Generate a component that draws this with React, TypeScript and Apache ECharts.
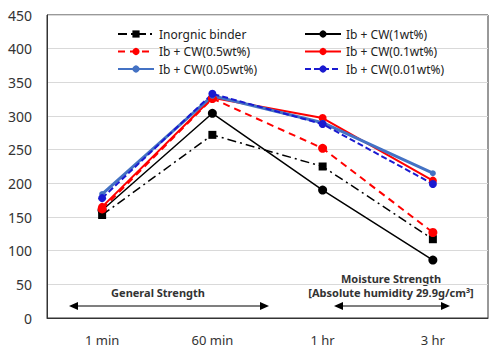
import React, { useEffect, useRef } from "react";
import * as echarts from "echarts";

const categories = ["1 min", "60 min", "1 hr", "3 hr"];
const yTicks = [0, 50, 100, 150, 200, 250, 300, 350, 400, 450];
const inorganic = [153, 272, 225, 117];
const cw1 = [160, 304, 190, 86];
const cw05 = [162, 326, 252, 127];
const cw01 = [165, 327, 297, 204];
const cw005 = [184, 330, 290, 215];
const cw001 = [178, 333, 288, 199];

const names = [
  "Inorgnic binder",
  "Ib + CW(1wt%)",
  "Ib + CW(0.5wt%)",
  "Ib + CW(0.1wt%)",
  "Ib + CW(0.05wt%)",
  "Ib + CW(0.01wt%)",
];

const FONT = "'Noto Sans', 'Noto Sans CJK KR', sans-serif";

function arrow(x1: number, x2: number, y: number) {
  const h = 4;
  const l = 9;
  return [
    { type: "line", shape: { x1: x1 + 2, y1: y, x2: x2 - 2, y2: y }, style: { stroke: "#000", lineWidth: 1.2 } },
    { type: "polygon", shape: { points: [[x1, y], [x1 + l, y - h], [x1 + l, y + h]] }, style: { fill: "#000" } },
    { type: "polygon", shape: { points: [[x2, y], [x2 - l, y - h], [x2 - l, y + h]] }, style: { fill: "#000" } },
  ];
}

export default function App() {
  const ref = useRef<HTMLDivElement>(null);
  useEffect(() => {
    if (!ref.current) return;
    const chart = echarts.init(ref.current, undefined, { renderer: "svg" });
    const mk = (name: string, data: number[], color: string, type: any, width: number, symbol: string, size: number) => ({
      name,
      type: "line",
      data,
      symbol,
      symbolSize: size,
      lineStyle: { color, type, width },
      itemStyle: { color },
      z: 2,
    });
    const legendBase = {
      orient: "vertical",
      top: 28,
      padding: 0,
      itemWidth: 36,
      itemHeight: 9,
      itemGap: 5.5,
      textStyle: { fontSize: 12, color: "#222", fontFamily: FONT },
    };
    chart.setOption({
      animation: false,
      textStyle: { fontFamily: FONT },
      grid: { left: 47, right: 1, top: 15, bottom: 30, show: true, borderColor: "#333", borderWidth: 1 },
      legend: [
        { ...legendBase, data: [names[0], names[2], names[4]], left: 117 },
        { ...legendBase, data: [names[1], names[3], names[5]], left: 304 },
      ],
      xAxis: {
        type: "category",
        data: categories,
        boundaryGap: true,
        axisLine: { lineStyle: { color: "#333" } },
        axisTick: { show: false },
        axisLabel: { color: "#333", fontSize: 13, margin: 15, fontFamily: FONT },
      },
      yAxis: {
        type: "value",
        min: yTicks[0],
        max: yTicks[yTicks.length - 1],
        interval: 50,
        axisLine: { show: true, lineStyle: { color: "#333" } },
        axisLabel: { color: "#333", fontSize: 14, margin: 15, fontFamily: FONT },
        splitLine: { lineStyle: { color: "#d9d9d9" } },
      },
      series: [
        mk(names[0], inorganic, "#000", [9, 4, 2, 4], 1.5, "rect", 8),
        mk(names[1], cw1, "#000", "solid", 1.5, "circle", 9),
        mk(names[2], cw05, "#ff0000", [7, 5], 2, "circle", 9),
        mk(names[3], cw01, "#ff0000", "solid", 2, "circle", 8),
        mk(names[4], cw005, "#4472c4", "solid", 3, "circle", 6),
        mk(names[5], cw001, "#1a1ad0", [6, 3], 2, "circle", 8),
      ],
      graphic: [
        { type: "text", x: 158, y: 292, style: { text: "General Strength", fill: "#333", font: `bold 11px ${FONT}`, align: "center", verticalAlign: "middle" } },
        { type: "text", x: 391, y: 278, style: { text: "Moisture Strength", fill: "#333", font: `bold 11px ${FONT}`, align: "center", verticalAlign: "middle" } },
        { type: "text", x: 391, y: 292, style: { text: "[Absolute humidity 29.9g/cm³]", fill: "#333", font: `bold 11px ${FONT}`, align: "center", verticalAlign: "middle" } },
        ...arrow(69, 269, 306),
        ...arrow(334, 450, 306),
      ],
    });
    return () => chart.dispose();
  }, []);
  return <div ref={ref} style={{ width: 489, height: 348, position: "absolute", left: 0, top: 0 }} />;
}
